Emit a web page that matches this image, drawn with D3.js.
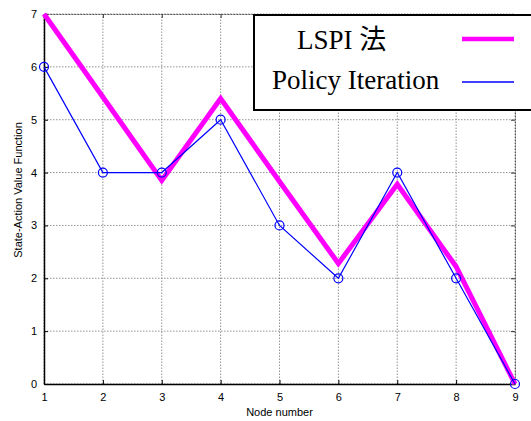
<!DOCTYPE html>
<html><head><meta charset="utf-8">
<script src="https://cdn.jsdelivr.net/npm/d3@7"></script>
<style>body{margin:0;background:#fff}svg{display:block}</style>
</head><body>
<script>
const nodes = [1,2,3,4,5,6,7,8,9];
const lspi = [7, 5.43, 3.85, 5.4, 3.83, 2.28, 3.78, 2.22, 0];
const policyIter = [6, 4, 4, 5, 3, 2, 4, 2, 0];
const xTicks = [1,2,3,4,5,6,7,8,9];
const yTicks = [0,1,2,3,4,5,6,7];
const seriesNames = ["LSPI 法", "Policy Iteration"];

const W = 531, H = 421;
const m = {l:44, r:16, t:14, b:37};
const svg = d3.select("body").append("svg").attr("width", W).attr("height", H);
const x = d3.scaleLinear().domain([1,9]).range([m.l, W - m.r]);
const y = d3.scaleLinear().domain([0,7]).range([H - m.b, m.t]);

// grid
const g = svg.append("g");
g.selectAll(".gx").data(xTicks).join("line")
  .attr("x1", d=>x(d)).attr("x2", d=>x(d)).attr("y1", y(0)).attr("y2", y(7))
  .attr("stroke", "#777").attr("stroke-width", 0.8).attr("stroke-dasharray", "1.5,1.5");
g.selectAll(".gy").data(yTicks).join("line")
  .attr("x1", x(1)).attr("x2", x(9)).attr("y1", d=>y(d)).attr("y2", d=>y(d))
  .attr("stroke", "#777").attr("stroke-width", 0.8).attr("stroke-dasharray", "1.5,1.5");

// axes with inward ticks
const font = "'Liberation Sans', Arial, sans-serif";
const xAxis = svg.append("g").attr("transform", `translate(0,${y(0)})`)
  .call(d3.axisBottom(x).tickValues(xTicks).tickSize(-4).tickPadding(9).tickSizeOuter(0).tickFormat(d3.format("d")));
const yAxis = svg.append("g").attr("transform", `translate(${x(1)},0)`)
  .call(d3.axisLeft(y).tickValues(yTicks).tickSize(-4).tickPadding(7).tickSizeOuter(0).tickFormat(d3.format("d")));
const xTop = svg.append("g").attr("transform", `translate(0,${y(7)})`)
  .call(d3.axisTop(x).tickValues(xTicks).tickSize(-4).tickSizeOuter(0).tickFormat(""));
const yRight = svg.append("g").attr("transform", `translate(${x(9)},0)`)
  .call(d3.axisRight(y).tickValues(yTicks).tickSize(-4).tickSizeOuter(0).tickFormat(""));
[xAxis, yAxis].forEach(a => {
  a.selectAll("text").attr("font-family", font).attr("font-size", 11).attr("fill", "#000");
  a.selectAll("line").attr("stroke", "#000");
  a.select(".domain").attr("stroke", "#000").attr("stroke-width", 1.5);
});
[xTop, yRight].forEach(a => {
  a.selectAll("line").attr("stroke", "#333");
  a.select(".domain").attr("stroke", "#555").attr("stroke-width", 1).attr("stroke-dasharray", "2,1");
});

// axis titles
svg.append("text").attr("x", (x(1)+x(9))/2).attr("y", 416).attr("text-anchor", "middle")
  .attr("font-family", font).attr("font-size", 11).text("Node number");
svg.append("text").attr("transform", `translate(22,${190}) rotate(-90)`).attr("text-anchor", "middle")
  .attr("font-family", font).attr("font-size", 11).text("State-Action Value Function");

// lines
const line = d3.line().x((d,i)=>x(nodes[i])).y(d=>y(d));
svg.append("path").datum(lspi).attr("d", line).attr("fill", "none")
  .attr("stroke", "#ff00ff").attr("stroke-width", 5).attr("stroke-linejoin", "miter");
svg.append("path").datum(policyIter).attr("d", line).attr("fill", "none")
  .attr("stroke", "#0000ff").attr("stroke-width", 1.2);
svg.selectAll(".pt").data(policyIter).join("circle")
  .attr("cx", (d,i)=>x(nodes[i])).attr("cy", d=>y(d)).attr("r", 4.5)
  .attr("fill", "none").attr("stroke", "#0000ff").attr("stroke-width", 1.2);

// legend
const lg = svg.append("g");
lg.append("rect").attr("x", 254).attr("y", 15).attr("width", 300).attr("height", 95)
  .attr("fill", "#fff").attr("stroke", "#000").attr("stroke-width", 2);
const serif = "'Liberation Serif', 'Times New Roman', 'Noto Sans CJK JP', serif";
const legendRows = [
  {name: seriesNames[0], color: "#ff00ff", w: 4.5, ty: 49, ly: 39, tx: 297},
  {name: seriesNames[1], color: "#0000ff", w: 1.5, ty: 89, ly: 82, tx: 272}
];
legendRows.forEach(r => {
  lg.append("text").attr("x", r.tx).attr("y", r.ty).attr("font-family", serif)
    .attr("font-size", 27).text(r.name);
  lg.append("line").attr("x1", 462).attr("x2", 514).attr("y1", r.ly).attr("y2", r.ly)
    .attr("stroke", r.color).attr("stroke-width", r.w);
});
</script>
</body></html>
